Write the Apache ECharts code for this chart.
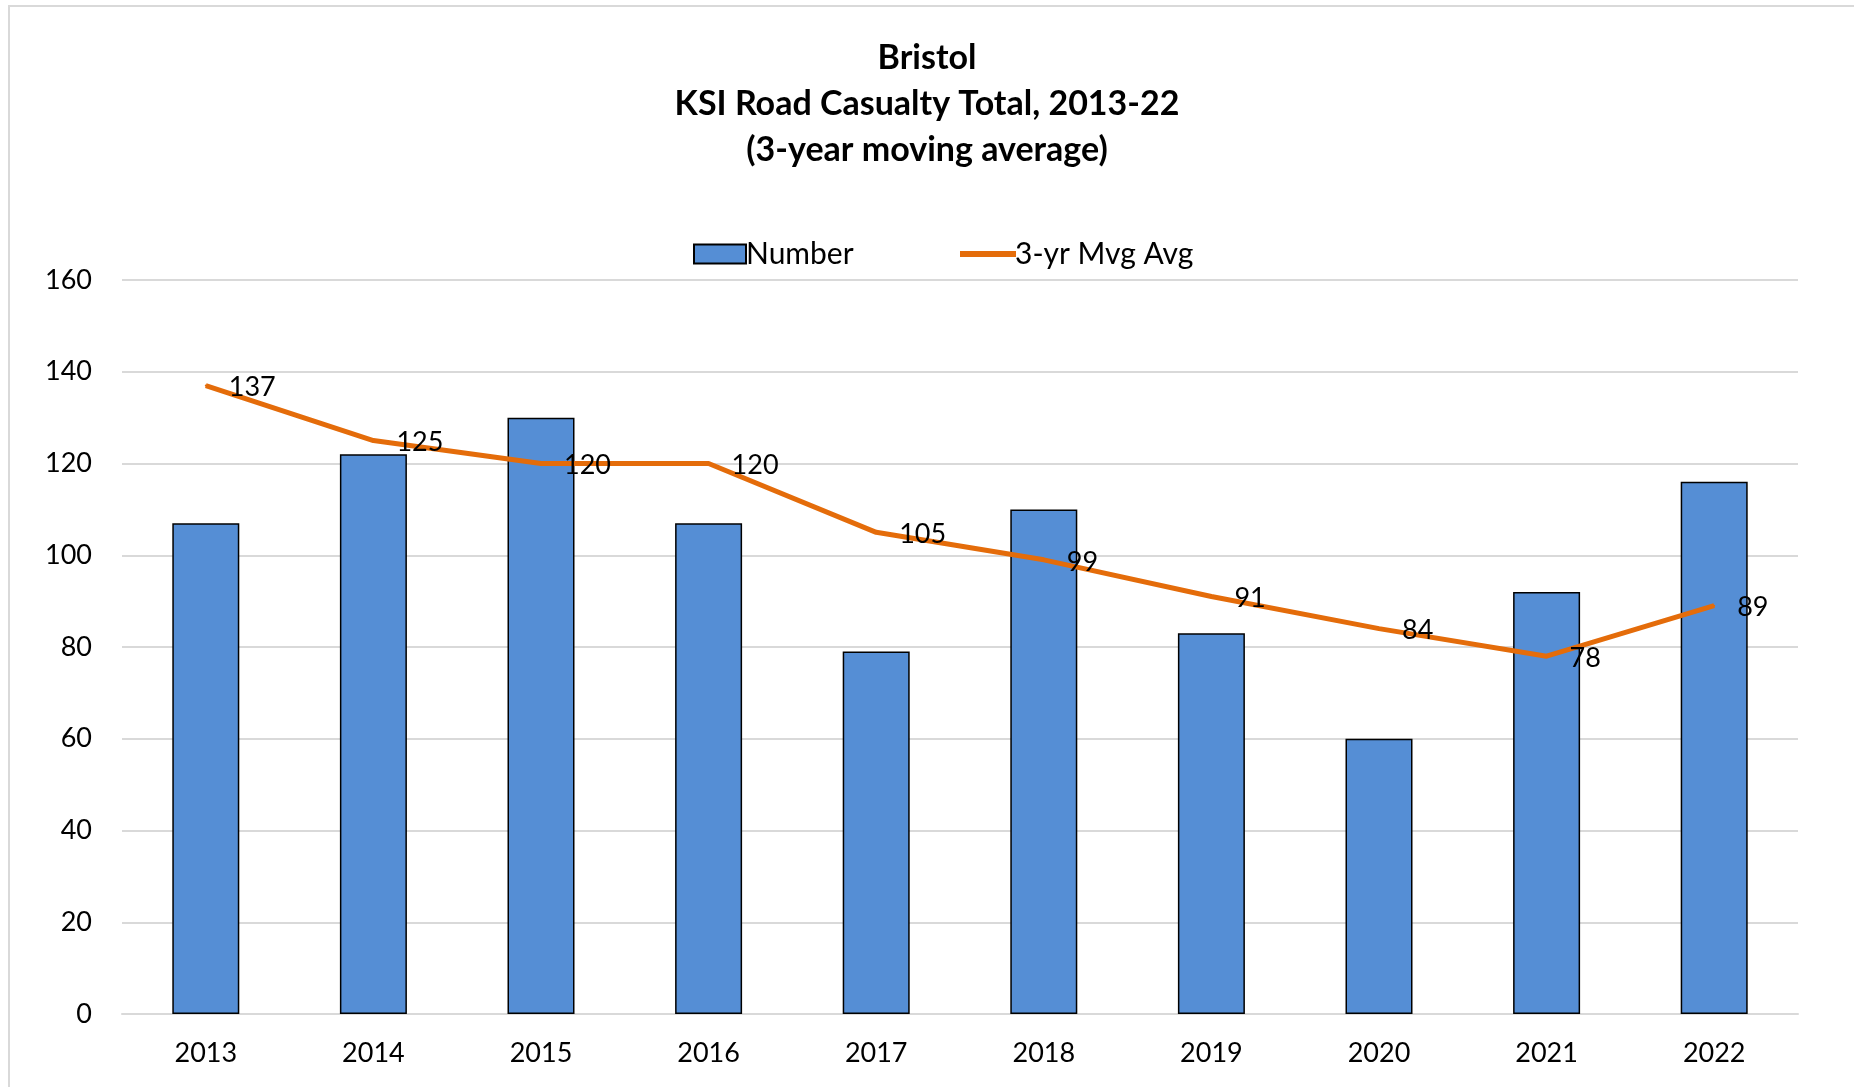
<!DOCTYPE html>
<html>
<head>
<meta charset="utf-8">
<script src="https://cdn.jsdelivr.net/npm/echarts@6/dist/echarts.min.js"></script>
<style>
html,body{margin:0;padding:0;background:#fff;}
#c{width:1854px;height:1087px;}
</style>
</head>
<body>
<div id="c"></div>
<script>
const years = ['2013','2014','2015','2016','2017','2018','2019','2020','2021','2022'];
const numberValues = [107, 122, 130, 107, 79, 110, 83, 60, 92, 116];
const movingAvg = [137, 125, 120, 120, 105, 99, 91, 84, 78, 89];
const titleLines = ['Bristol', 'KSI Road Casualty Total, 2013-22', '(3-year moving average)'];

const FONT = 'Lato, "Open Sans", sans-serif';
const chart = echarts.init(document.getElementById('c'));
chart.setOption({
  backgroundColor: '#fff',
  animation: false,
  textStyle: { fontFamily: FONT },
  title: {
    text: titleLines.join('\n'),
    left: 'center',
    top: 30,
    textStyle: { fontSize: 34, fontWeight: 'bold', color: '#000', lineHeight: 46, fontFamily: FONT }
  },
  graphic: [
    { type: 'rect', shape: { x: 9, y: 6, width: 1900, height: 1200 }, style: { fill: 'none', stroke: '#d9d9d9', lineWidth: 2 }, silent: true }
  ],
  legend: [
    {
      top: 234, left: 688,
      itemWidth: 52, itemHeight: 19,
      textStyle: { fontSize: 30, color: '#000', fontFamily: FONT, padding: [0,0,0,-5] },
      data: [{ name: 'Number', icon: 'rect' }]
    },
    {
      top: 234, left: 955,
      itemWidth: 56, itemHeight: 6,
      textStyle: { fontSize: 30, color: '#000', fontFamily: FONT, padding: [0,0,0,-6] },
      data: [{ name: '3-yr Mvg Avg', icon: 'rect', itemStyle: { color: '#E46C0A', opacity: 1 } }]
    }
  ],
  grid: { left: 122, right: 56, top: 280, bottom: 73, containLabel: false },
  xAxis: {
    type: 'category',
    data: years,
    axisLine: { show: true, lineStyle: { color: '#d9d9d9', width: 2 } },
    axisTick: { show: false },
    axisLabel: { fontSize: 27, color: '#000', margin: 26, fontFamily: FONT }
  },
  yAxis: {
    type: 'value',
    min: 0, max: 160, interval: 20,
    axisLine: { show: false },
    axisTick: { show: false },
    splitLine: { lineStyle: { color: '#d9d9d9', width: 2 } },
    axisLabel: { fontSize: 27, color: '#000', margin: 30, fontFamily: FONT }
  },
  series: [
    {
      name: 'Number',
      type: 'bar',
      data: numberValues,
      barWidth: 67,
      itemStyle: { color: '#558ED5', borderColor: '#000', borderWidth: 1.5 }
    },
    {
      name: '3-yr Mvg Avg',
      type: 'line',
      data: movingAvg,
      symbol: 'circle',
      symbolSize: 2,
      showSymbol: true,
      lineStyle: { color: '#E46C0A', width: 5 },
      itemStyle: { color: '#E46C0A' },
      label: { show: true, position: 'right', distance: 22, fontSize: 27, color: '#000', fontFamily: FONT, offset: [0, 2] }
    }
  ]
});
</script>
</body>
</html>
